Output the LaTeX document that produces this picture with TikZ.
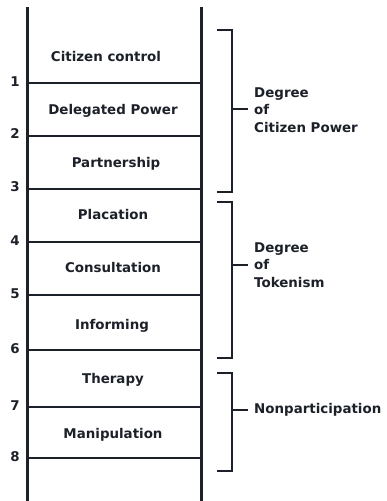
\documentclass[tikz,border=0pt]{standalone}
\usepackage{fontspec}
\setmainfont{DejaVu Sans}
\usepackage{tikz}
\usetikzlibrary{positioning}
\definecolor{ink}{HTML}{1C2029}

\begin{document}
\begin{tikzpicture}
    [
      x=1pt, y=-1pt,
      every node/.style = {font=\bfseries\fontsize{13.4}{17.5}\selectfont, text=ink},
      rail/.style = {draw=ink, line width=3pt},
      rung/.style = {draw=ink, line width=2.6pt},
      brace/.style = {draw=ink, line width=2.3pt},
      rungname/.style = {anchor=base},
      groupname/.style = {anchor=west, align=left, inner xsep=6pt},
    ]
    \useasboundingbox (0,0) rectangle (386,501);

    % rails
    \coordinate (lt) at (27,7);
    \coordinate (lb) at (27,501);
    \coordinate (rt) at (201,7);
    \coordinate (rb) at (201,501);
    \draw[rail] (lt) -- (lb);
    \draw[rail] (rt) -- (rb);

    % rungs
    \coordinate (r1) at (27,83);
    \coordinate (r2) at (27,136);
    \coordinate (r3) at (27,189);
    \coordinate (r4) at (27,242);
    \coordinate (r5) at (27,295);
    \coordinate (r6) at (27,350);
    \coordinate (r7) at (27,407);
    \coordinate (r8) at (27,458);
    \draw[rung] (r1) -- (r1 -| rt);
    \draw[rung] (r2) -- (r2 -| rt);
    \draw[rung] (r3) -- (r3 -| rt);
    \draw[rung] (r4) -- (r4 -| rt);
    \draw[rung] (r5) -- (r5 -| rt);
    \draw[rung] (r6) -- (r6 -| rt);
    \draw[rung] (r7) -- (r7 -| rt);
    \draw[rung] (r8) -- (r8 -| rt);
    \node[rungname] (n1) at (15,86) {1};
    \node[rungname] (n2) at (15,138) {2};
    \node[rungname] (n3) at (15,191) {3};
    \node[rungname] (n4) at (15,245) {4};
    \node[rungname] (n5) at (15,298) {5};
    \node[rungname] (n6) at (15,353) {6};
    \node[rungname] (n7) at (15,410) {7};
    \node[rungname] (n8) at (15,461) {8};

    % steps
    \node[rungname] (control) at (106,61) {Citizen control};
    \node[rungname] (delegated) at (113,114) {Delegated Power};
    \node[rungname] (partner) at (116,167) {Partnership};
    \node[rungname] (placation) at (113,219) {Placation};
    \node[rungname] (consult) at (113,272) {Consultation};
    \node[rungname] (inform) at (112,329) {Informing};
    \node[rungname] (therapy) at (113,383) {Therapy};
    \node[rungname] (manip) at (113,438) {Manipulation};

    % groups
    \coordinate (b1t) at (217,30);
    \coordinate (b1m) at (232,109);
    \coordinate (b1b) at (217,192);
    \draw[brace] (b1t) -| (b1m) |- (b1b);
    \node[groupname] (power) at (248,110) {Degree\\of\\Citizen Power};
    \draw[brace] (b1m) -- (b1m -| power.west);

    \coordinate (b2t) at (217,202);
    \coordinate (b2m) at (232,265);
    \coordinate (b2b) at (217,358);
    \draw[brace] (b2t) -| (b2m) |- (b2b);
    \node[groupname] (token) at (248,265) {Degree\\of\\Tokenism};
    \draw[brace] (b2m) -- (b2m -| token.west);

    \coordinate (b3t) at (217,373);
    \coordinate (b3m) at (232,410);
    \coordinate (b3b) at (217,471);
    \draw[brace] (b3t) -| (b3m) |- (b3b);
    \node[groupname] (nonpart) at (248,410) {Nonparticipation};
    \draw[brace] (b3m) -- (b3m -| nonpart.west);
  \end{tikzpicture}
\end{document}
